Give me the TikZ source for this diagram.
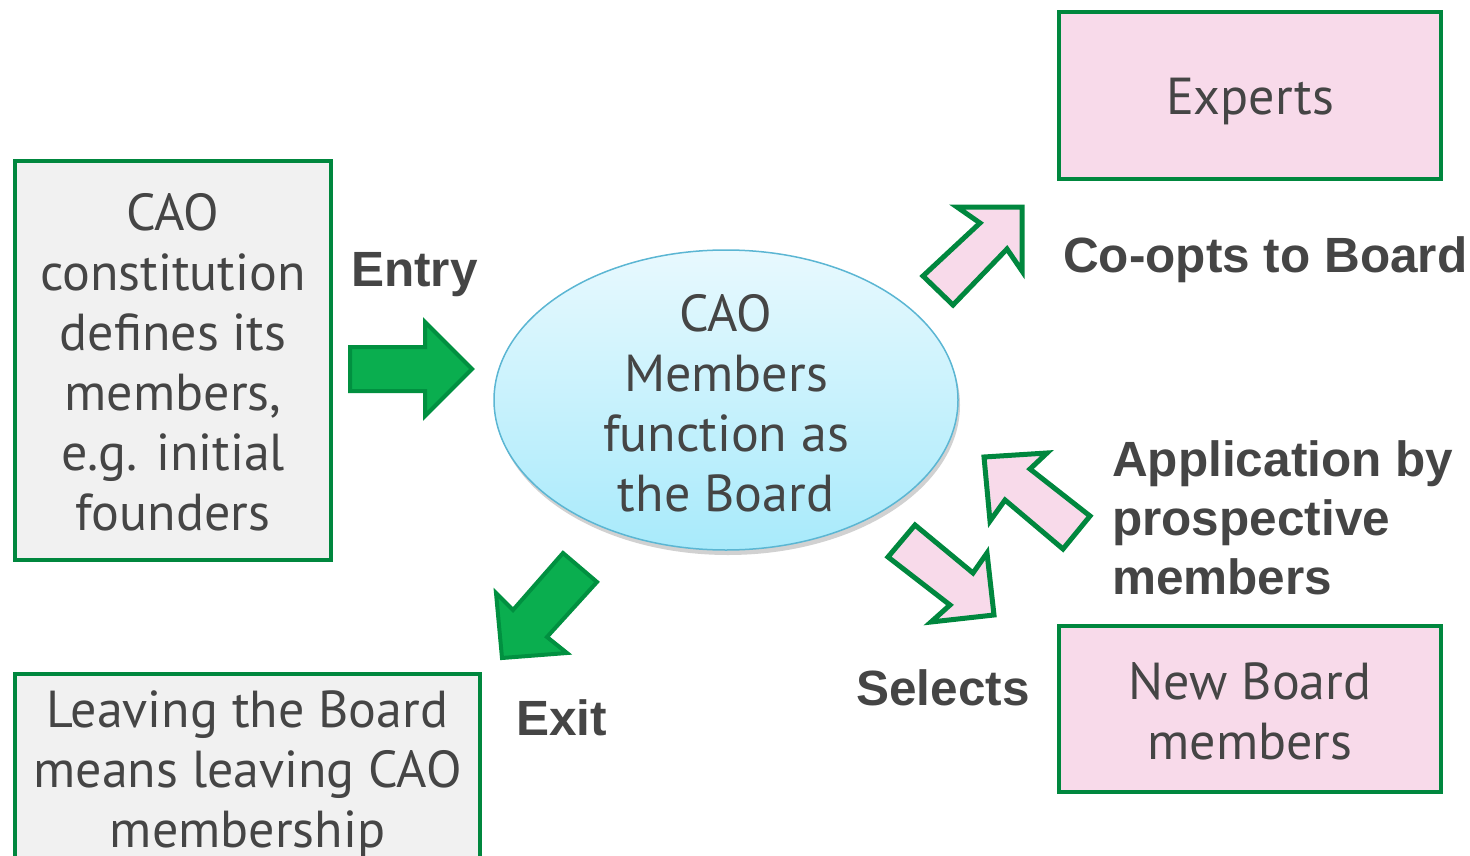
\documentclass[tikz,border=0pt]{standalone}
\usepackage{fontspec}
\setmainfont{PT Sans}
\newfontfamily\labfont{Liberation Sans}
\usetikzlibrary{shapes.geometric}
\definecolor{bordergreen}{HTML}{00873E}
\definecolor{arrowgreen}{HTML}{0AAE4F}
\definecolor{arrowedge}{HTML}{019040}
\definecolor{pinkfill}{HTML}{F8DAEA}
\definecolor{greyfill}{HTML}{F1F1F1}
\definecolor{txt}{HTML}{454545}
\definecolor{ellline}{HTML}{5BB6D3}
\definecolor{elltop}{HTML}{E8F9FE}
\definecolor{ellbot}{HTML}{A8EAFB}
\tikzset{
  x=1pt, y=1pt,
  bodytext/.style={text=txt, font=\fontsize{52}{60}\selectfont, align=center, inner sep=0pt},
  greybox/.style={draw=bordergreen, line width=4pt, fill=greyfill, inner sep=0pt},
  pinkbox/.style={draw=bordergreen, line width=4pt, fill=pinkfill, inner sep=0pt},
  label/.style={text=txt, font=\labfont\bfseries\fontsize{49.5}{59}\selectfont, align=left, inner sep=0pt},
  greenarrow/.style={fill=arrowgreen, draw=arrowedge, line width=4pt, line join=miter},
  pinkarrow/.style={fill=pinkfill, draw=bordergreen, line width=5pt, line join=miter},
}
\begin{document}
\begin{tikzpicture}
\useasboundingbox (0,0) rectangle (1470,-856);
\clip (0,0) rectangle (1470,-856);
% boxes
\node[greybox, minimum width=316, minimum height=399] (constitution) at (173,-360.5) {};
\node[bodytext] (constitution-text) at (173,-362.5)
  {CAO\\constitution\\defines its\\members,\\e.g. initial\\founders};
\node[greybox, minimum width=465, minimum height=190] (leaving) at (247.5,-769) {};
\node[bodytext] (leaving-text) at (247.5,-774)
  {Leaving the Board\\means leaving CAO\\membership};
\node[pinkbox, minimum width=382, minimum height=167] (experts) at (1250,-95.5) {};
\node[bodytext] (experts-text) at (1250,-102) {Experts};
\node[pinkbox, minimum width=382, minimum height=166] (newmembers) at (1250,-709) {};
\node[bodytext] (newmembers-text) at (1250,-711) {New Board\\members};
% ellipse with shadow
\fill[black!18] (728,-405) ellipse [x radius=232, y radius=150];
\node[ellipse, draw=ellline, line width=1.5pt, top color=elltop, bottom color=ellbot,
  minimum width=464, minimum height=300] (board) at (726,-400) {};
\node[bodytext] (board-text) at (726,-403) {CAO\\Members\\function as\\the Board};
% block arrows
\draw[greenarrow] (350,-347) -- (425,-347) -- (425,-322) -- (472,-369) -- (425,-416) -- (425,-391) -- (350,-391) -- cycle;
\draw[greenarrow] (502,-658) -- (567,-653) -- (547,-637) -- (597,-582) -- (563,-553) -- (513,-610) -- (496,-593) -- cycle;
\draw[pinkarrow] (1022,-207) -- (1022,-271) -- (1007,-249) -- (953,-305) -- (923,-276) -- (980,-223) -- (957,-207) -- cycle;
\draw[pinkarrow] (984,-457) -- (1047,-453) -- (1030,-469) -- (1090,-516) -- (1063,-549) -- (1005,-500) -- (990,-521) -- cycle;
\draw[pinkarrow] (994,-615) -- (931,-622) -- (950,-605) -- (888,-557) -- (915,-525) -- (973,-573) -- (987,-553) -- cycle;
% labels
\node[label, anchor=west] (entry) at (351,-275) {Entry};
\node[label, anchor=west] (exit) at (516,-718) {Exit};
\node[label, anchor=west] (coopts) at (1063,-260) {Co-opts to Board};
\node[label, anchor=west] (application) at (1112,-518) {Application by\\prospective\\members};
\node[label, anchor=west] (selects) at (856,-688) {Selects};
\end{tikzpicture}
\end{document}
